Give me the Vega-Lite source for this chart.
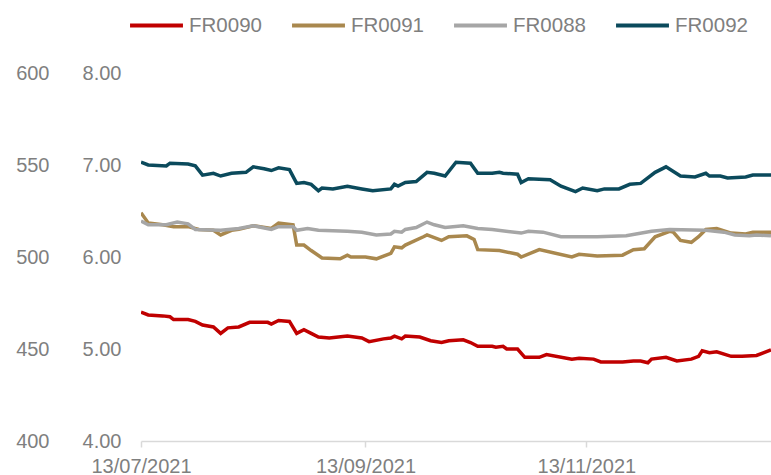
{
  "$schema": "https://vega.github.io/schema/vega-lite/v6.json",
  "width": 630,
  "height": 368,
  "autosize": {"type": "none"},
  "padding": {"left": 141, "top": 73, "right": 0, "bottom": 34},
  "background": "white",
  "config": {
    "view": {"stroke": null},
    "font": "Liberation Sans",
    "axis": {"grid": false, "title": null, "labelColor": "#7f7f7f", "labelFontSize": 20, "labelFont": "Liberation Sans"}
  },
  "layer": [
    {
      "data": {"values": [
        {"d":"2021-07-13","s":"FR0090","v":5.40},{"d":"2021-07-15","s":"FR0090","v":5.37},{"d":"2021-07-19","s":"FR0090","v":5.36},{"d":"2021-07-21","s":"FR0090","v":5.35},{"d":"2021-07-22","s":"FR0090","v":5.32},{"d":"2021-07-26","s":"FR0090","v":5.32},{"d":"2021-07-28","s":"FR0090","v":5.30},{"d":"2021-07-30","s":"FR0090","v":5.26},{"d":"2021-08-02","s":"FR0090","v":5.24},{"d":"2021-08-04","s":"FR0090","v":5.17},{"d":"2021-08-06","s":"FR0090","v":5.23},{"d":"2021-08-09","s":"FR0090","v":5.24},{"d":"2021-08-12","s":"FR0090","v":5.29},{"d":"2021-08-17","s":"FR0090","v":5.29},{"d":"2021-08-18","s":"FR0090","v":5.27},{"d":"2021-08-20","s":"FR0090","v":5.31},{"d":"2021-08-23","s":"FR0090","v":5.30},{"d":"2021-08-25","s":"FR0090","v":5.17},{"d":"2021-08-27","s":"FR0090","v":5.21},{"d":"2021-08-29","s":"FR0090","v":5.17},{"d":"2021-08-31","s":"FR0090","v":5.13},{"d":"2021-09-03","s":"FR0090","v":5.12},{"d":"2021-09-08","s":"FR0090","v":5.14},{"d":"2021-09-12","s":"FR0090","v":5.12},{"d":"2021-09-14","s":"FR0090","v":5.08},{"d":"2021-09-18","s":"FR0090","v":5.11},{"d":"2021-09-20","s":"FR0090","v":5.12},{"d":"2021-09-21","s":"FR0090","v":5.14},{"d":"2021-09-23","s":"FR0090","v":5.11},{"d":"2021-09-24","s":"FR0090","v":5.14},{"d":"2021-09-28","s":"FR0090","v":5.13},{"d":"2021-10-01","s":"FR0090","v":5.09},{"d":"2021-10-04","s":"FR0090","v":5.07},{"d":"2021-10-06","s":"FR0090","v":5.09},{"d":"2021-10-10","s":"FR0090","v":5.10},{"d":"2021-10-12","s":"FR0090","v":5.07},{"d":"2021-10-14","s":"FR0090","v":5.03},{"d":"2021-10-18","s":"FR0090","v":5.03},{"d":"2021-10-19","s":"FR0090","v":5.02},{"d":"2021-10-21","s":"FR0090","v":5.03},{"d":"2021-10-22","s":"FR0090","v":5.00},{"d":"2021-10-25","s":"FR0090","v":5.00},{"d":"2021-10-27","s":"FR0090","v":4.91},{"d":"2021-10-29","s":"FR0090","v":4.91},{"d":"2021-10-31","s":"FR0090","v":4.91},{"d":"2021-11-02","s":"FR0090","v":4.94},{"d":"2021-11-09","s":"FR0090","v":4.89},{"d":"2021-11-11","s":"FR0090","v":4.90},{"d":"2021-11-15","s":"FR0090","v":4.89},{"d":"2021-11-17","s":"FR0090","v":4.86},{"d":"2021-11-23","s":"FR0090","v":4.86},{"d":"2021-11-26","s":"FR0090","v":4.87},{"d":"2021-11-28","s":"FR0090","v":4.87},{"d":"2021-11-30","s":"FR0090","v":4.85},{"d":"2021-12-01","s":"FR0090","v":4.89},{"d":"2021-12-05","s":"FR0090","v":4.91},{"d":"2021-12-08","s":"FR0090","v":4.87},{"d":"2021-12-12","s":"FR0090","v":4.89},{"d":"2021-12-14","s":"FR0090","v":4.92},{"d":"2021-12-15","s":"FR0090","v":4.98},{"d":"2021-12-17","s":"FR0090","v":4.96},{"d":"2021-12-19","s":"FR0090","v":4.97},{"d":"2021-12-23","s":"FR0090","v":4.92},{"d":"2021-12-26","s":"FR0090","v":4.92},{"d":"2021-12-30","s":"FR0090","v":4.93},{"d":"2022-01-03","s":"FR0090","v":4.99},

        {"d":"2021-07-13","s":"FR0091","v":6.48},{"d":"2021-07-15","s":"FR0091","v":6.37},{"d":"2021-07-19","s":"FR0091","v":6.35},{"d":"2021-07-22","s":"FR0091","v":6.33},{"d":"2021-07-26","s":"FR0091","v":6.33},{"d":"2021-07-29","s":"FR0091","v":6.30},{"d":"2021-08-02","s":"FR0091","v":6.29},{"d":"2021-08-04","s":"FR0091","v":6.24},{"d":"2021-08-07","s":"FR0091","v":6.29},{"d":"2021-08-09","s":"FR0091","v":6.30},{"d":"2021-08-13","s":"FR0091","v":6.34},{"d":"2021-08-18","s":"FR0091","v":6.31},{"d":"2021-08-20","s":"FR0091","v":6.37},{"d":"2021-08-24","s":"FR0091","v":6.35},{"d":"2021-08-25","s":"FR0091","v":6.13},{"d":"2021-08-27","s":"FR0091","v":6.13},{"d":"2021-08-29","s":"FR0091","v":6.07},{"d":"2021-09-01","s":"FR0091","v":5.99},{"d":"2021-09-06","s":"FR0091","v":5.98},{"d":"2021-09-08","s":"FR0091","v":6.02},{"d":"2021-09-09","s":"FR0091","v":6.00},{"d":"2021-09-13","s":"FR0091","v":6.00},{"d":"2021-09-16","s":"FR0091","v":5.98},{"d":"2021-09-20","s":"FR0091","v":6.04},{"d":"2021-09-21","s":"FR0091","v":6.11},{"d":"2021-09-23","s":"FR0091","v":6.10},{"d":"2021-09-24","s":"FR0091","v":6.13},{"d":"2021-09-29","s":"FR0091","v":6.22},{"d":"2021-09-30","s":"FR0091","v":6.24},{"d":"2021-10-04","s":"FR0091","v":6.18},{"d":"2021-10-06","s":"FR0091","v":6.22},{"d":"2021-10-11","s":"FR0091","v":6.23},{"d":"2021-10-13","s":"FR0091","v":6.19},{"d":"2021-10-14","s":"FR0091","v":6.08},{"d":"2021-10-20","s":"FR0091","v":6.07},{"d":"2021-10-25","s":"FR0091","v":6.03},{"d":"2021-10-26","s":"FR0091","v":6.00},{"d":"2021-10-31","s":"FR0091","v":6.08},{"d":"2021-11-09","s":"FR0091","v":6.00},{"d":"2021-11-11","s":"FR0091","v":6.03},{"d":"2021-11-16","s":"FR0091","v":6.01},{"d":"2021-11-23","s":"FR0091","v":6.02},{"d":"2021-11-26","s":"FR0091","v":6.08},{"d":"2021-11-29","s":"FR0091","v":6.09},{"d":"2021-12-02","s":"FR0091","v":6.22},{"d":"2021-12-06","s":"FR0091","v":6.28},{"d":"2021-12-07","s":"FR0091","v":6.27},{"d":"2021-12-09","s":"FR0091","v":6.18},{"d":"2021-12-12","s":"FR0091","v":6.16},{"d":"2021-12-14","s":"FR0091","v":6.22},{"d":"2021-12-16","s":"FR0091","v":6.30},{"d":"2021-12-19","s":"FR0091","v":6.31},{"d":"2021-12-23","s":"FR0091","v":6.26},{"d":"2021-12-27","s":"FR0091","v":6.25},{"d":"2021-12-29","s":"FR0091","v":6.27},{"d":"2022-01-03","s":"FR0091","v":6.27},

        {"d":"2021-07-13","s":"FR0088","v":6.39},{"d":"2021-07-15","s":"FR0088","v":6.35},{"d":"2021-07-20","s":"FR0088","v":6.35},{"d":"2021-07-23","s":"FR0088","v":6.38},{"d":"2021-07-26","s":"FR0088","v":6.36},{"d":"2021-07-28","s":"FR0088","v":6.30},{"d":"2021-08-04","s":"FR0088","v":6.29},{"d":"2021-08-09","s":"FR0088","v":6.31},{"d":"2021-08-13","s":"FR0088","v":6.34},{"d":"2021-08-18","s":"FR0088","v":6.30},{"d":"2021-08-20","s":"FR0088","v":6.33},{"d":"2021-08-24","s":"FR0088","v":6.33},{"d":"2021-08-25","s":"FR0088","v":6.29},{"d":"2021-08-28","s":"FR0088","v":6.31},{"d":"2021-08-31","s":"FR0088","v":6.29},{"d":"2021-09-08","s":"FR0088","v":6.28},{"d":"2021-09-12","s":"FR0088","v":6.27},{"d":"2021-09-16","s":"FR0088","v":6.24},{"d":"2021-09-20","s":"FR0088","v":6.25},{"d":"2021-09-21","s":"FR0088","v":6.28},{"d":"2021-09-23","s":"FR0088","v":6.27},{"d":"2021-09-24","s":"FR0088","v":6.30},{"d":"2021-09-27","s":"FR0088","v":6.32},{"d":"2021-09-30","s":"FR0088","v":6.38},{"d":"2021-10-02","s":"FR0088","v":6.35},{"d":"2021-10-05","s":"FR0088","v":6.32},{"d":"2021-10-10","s":"FR0088","v":6.34},{"d":"2021-10-14","s":"FR0088","v":6.31},{"d":"2021-10-18","s":"FR0088","v":6.30},{"d":"2021-10-26","s":"FR0088","v":6.26},{"d":"2021-10-28","s":"FR0088","v":6.28},{"d":"2021-11-01","s":"FR0088","v":6.27},{"d":"2021-11-06","s":"FR0088","v":6.22},{"d":"2021-11-16","s":"FR0088","v":6.22},{"d":"2021-11-24","s":"FR0088","v":6.23},{"d":"2021-12-01","s":"FR0088","v":6.28},{"d":"2021-12-06","s":"FR0088","v":6.30},{"d":"2021-12-16","s":"FR0088","v":6.29},{"d":"2021-12-21","s":"FR0088","v":6.27},{"d":"2021-12-24","s":"FR0088","v":6.24},{"d":"2021-12-28","s":"FR0088","v":6.23},{"d":"2021-12-30","s":"FR0088","v":6.24},{"d":"2022-01-03","s":"FR0088","v":6.23},

        {"d":"2021-07-13","s":"FR0092","v":7.03},{"d":"2021-07-15","s":"FR0092","v":7.00},{"d":"2021-07-20","s":"FR0092","v":6.99},{"d":"2021-07-21","s":"FR0092","v":7.02},{"d":"2021-07-26","s":"FR0092","v":7.01},{"d":"2021-07-28","s":"FR0092","v":6.99},{"d":"2021-07-30","s":"FR0092","v":6.89},{"d":"2021-08-02","s":"FR0092","v":6.91},{"d":"2021-08-04","s":"FR0092","v":6.88},{"d":"2021-08-07","s":"FR0092","v":6.91},{"d":"2021-08-11","s":"FR0092","v":6.92},{"d":"2021-08-13","s":"FR0092","v":6.98},{"d":"2021-08-16","s":"FR0092","v":6.96},{"d":"2021-08-18","s":"FR0092","v":6.94},{"d":"2021-08-20","s":"FR0092","v":6.97},{"d":"2021-08-23","s":"FR0092","v":6.95},{"d":"2021-08-25","s":"FR0092","v":6.80},{"d":"2021-08-27","s":"FR0092","v":6.81},{"d":"2021-08-29","s":"FR0092","v":6.79},{"d":"2021-08-31","s":"FR0092","v":6.72},{"d":"2021-09-01","s":"FR0092","v":6.75},{"d":"2021-09-04","s":"FR0092","v":6.74},{"d":"2021-09-08","s":"FR0092","v":6.77},{"d":"2021-09-12","s":"FR0092","v":6.74},{"d":"2021-09-15","s":"FR0092","v":6.72},{"d":"2021-09-20","s":"FR0092","v":6.74},{"d":"2021-09-21","s":"FR0092","v":6.79},{"d":"2021-09-22","s":"FR0092","v":6.77},{"d":"2021-09-24","s":"FR0092","v":6.81},{"d":"2021-09-27","s":"FR0092","v":6.82},{"d":"2021-09-30","s":"FR0092","v":6.92},{"d":"2021-10-02","s":"FR0092","v":6.91},{"d":"2021-10-05","s":"FR0092","v":6.88},{"d":"2021-10-08","s":"FR0092","v":7.03},{"d":"2021-10-12","s":"FR0092","v":7.02},{"d":"2021-10-14","s":"FR0092","v":6.91},{"d":"2021-10-18","s":"FR0092","v":6.91},{"d":"2021-10-20","s":"FR0092","v":6.92},{"d":"2021-10-21","s":"FR0092","v":6.91},{"d":"2021-10-25","s":"FR0092","v":6.90},{"d":"2021-10-26","s":"FR0092","v":6.81},{"d":"2021-10-28","s":"FR0092","v":6.85},{"d":"2021-11-03","s":"FR0092","v":6.84},{"d":"2021-11-06","s":"FR0092","v":6.77},{"d":"2021-11-10","s":"FR0092","v":6.71},{"d":"2021-11-12","s":"FR0092","v":6.75},{"d":"2021-11-16","s":"FR0092","v":6.72},{"d":"2021-11-18","s":"FR0092","v":6.74},{"d":"2021-11-22","s":"FR0092","v":6.74},{"d":"2021-11-25","s":"FR0092","v":6.79},{"d":"2021-11-28","s":"FR0092","v":6.80},{"d":"2021-12-02","s":"FR0092","v":6.92},{"d":"2021-12-05","s":"FR0092","v":6.98},{"d":"2021-12-09","s":"FR0092","v":6.88},{"d":"2021-12-13","s":"FR0092","v":6.87},{"d":"2021-12-16","s":"FR0092","v":6.91},{"d":"2021-12-17","s":"FR0092","v":6.88},{"d":"2021-12-20","s":"FR0092","v":6.88},{"d":"2021-12-22","s":"FR0092","v":6.86},{"d":"2021-12-27","s":"FR0092","v":6.87},{"d":"2021-12-29","s":"FR0092","v":6.89},{"d":"2022-01-03","s":"FR0092","v":6.89}
      ]},
      "mark": {"type": "line", "strokeWidth": 3.5, "clip": true},
      "encoding": {
        "x": {
          "field": "d", "type": "temporal",
          "scale": {"type": "utc", "domain": [{"year": 2021, "month": 7, "date": 13, "utc": true}, {"year": 2022, "month": 1, "date": 3, "utc": true}]},
          "axis": {
            "values": [{"year": 2021, "month": 7, "date": 13, "utc": true}, {"year": 2021, "month": 9, "date": 13, "utc": true}, {"year": 2021, "month": 11, "date": 13, "utc": true}],
            "labelExpr": "utcFormat(datum.value, '%d/%m/%Y')",
            "labelFlush": false, "labelAlign": "center", "labelOverlap": false,
            "domainColor": "#d9d9d9", "domainWidth": 1.5, "tickColor": "#d9d9d9", "tickWidth": 1.5, "tickSize": 6, "labelPadding": 9
          }
        },
        "y": {
          "field": "v", "type": "quantitative",
          "scale": {"domain": [4, 8], "nice": false, "zero": false},
          "axis": {"values": [4, 5, 6, 7, 8], "format": ".2f", "orient": "left", "domain": false, "ticks": false, "labelPadding": 20}
        },
        "color": {
          "field": "s", "type": "nominal",
          "scale": {"domain": ["FR0090", "FR0091", "FR0088", "FR0092"], "range": ["#c00000", "#a9884e", "#a6a6a6", "#0b4a5c"]},
          "legend": {
            "title": null, "orient": "none", "legendX": -13, "legendY": -76, "direction": "horizontal",
            "symbolType": "stroke", "symbolSize": 2800, "symbolStrokeWidth": 4,
            "labelFontSize": 20.5, "labelColor": "#7f7f7f", "labelFont": "Liberation Sans",
            "columnPadding": 22, "labelOffset": 4
          }
        }
      }
    },
    {
      "data": {"values": [{"lvl": 400}, {"lvl": 600}]},
      "mark": {"type": "point", "opacity": 0},
      "encoding": {
        "y": {
          "field": "lvl", "type": "quantitative",
          "scale": {"domain": [400, 600], "nice": false, "zero": false},
          "axis": {"values": [400, 450, 500, 550, 600], "format": "d", "orient": "left", "offset": 72, "domain": false, "ticks": false, "labelPadding": 20}
        }
      }
    }
  ],
  "resolve": {"scale": {"y": "independent", "color": "independent"}}
}
